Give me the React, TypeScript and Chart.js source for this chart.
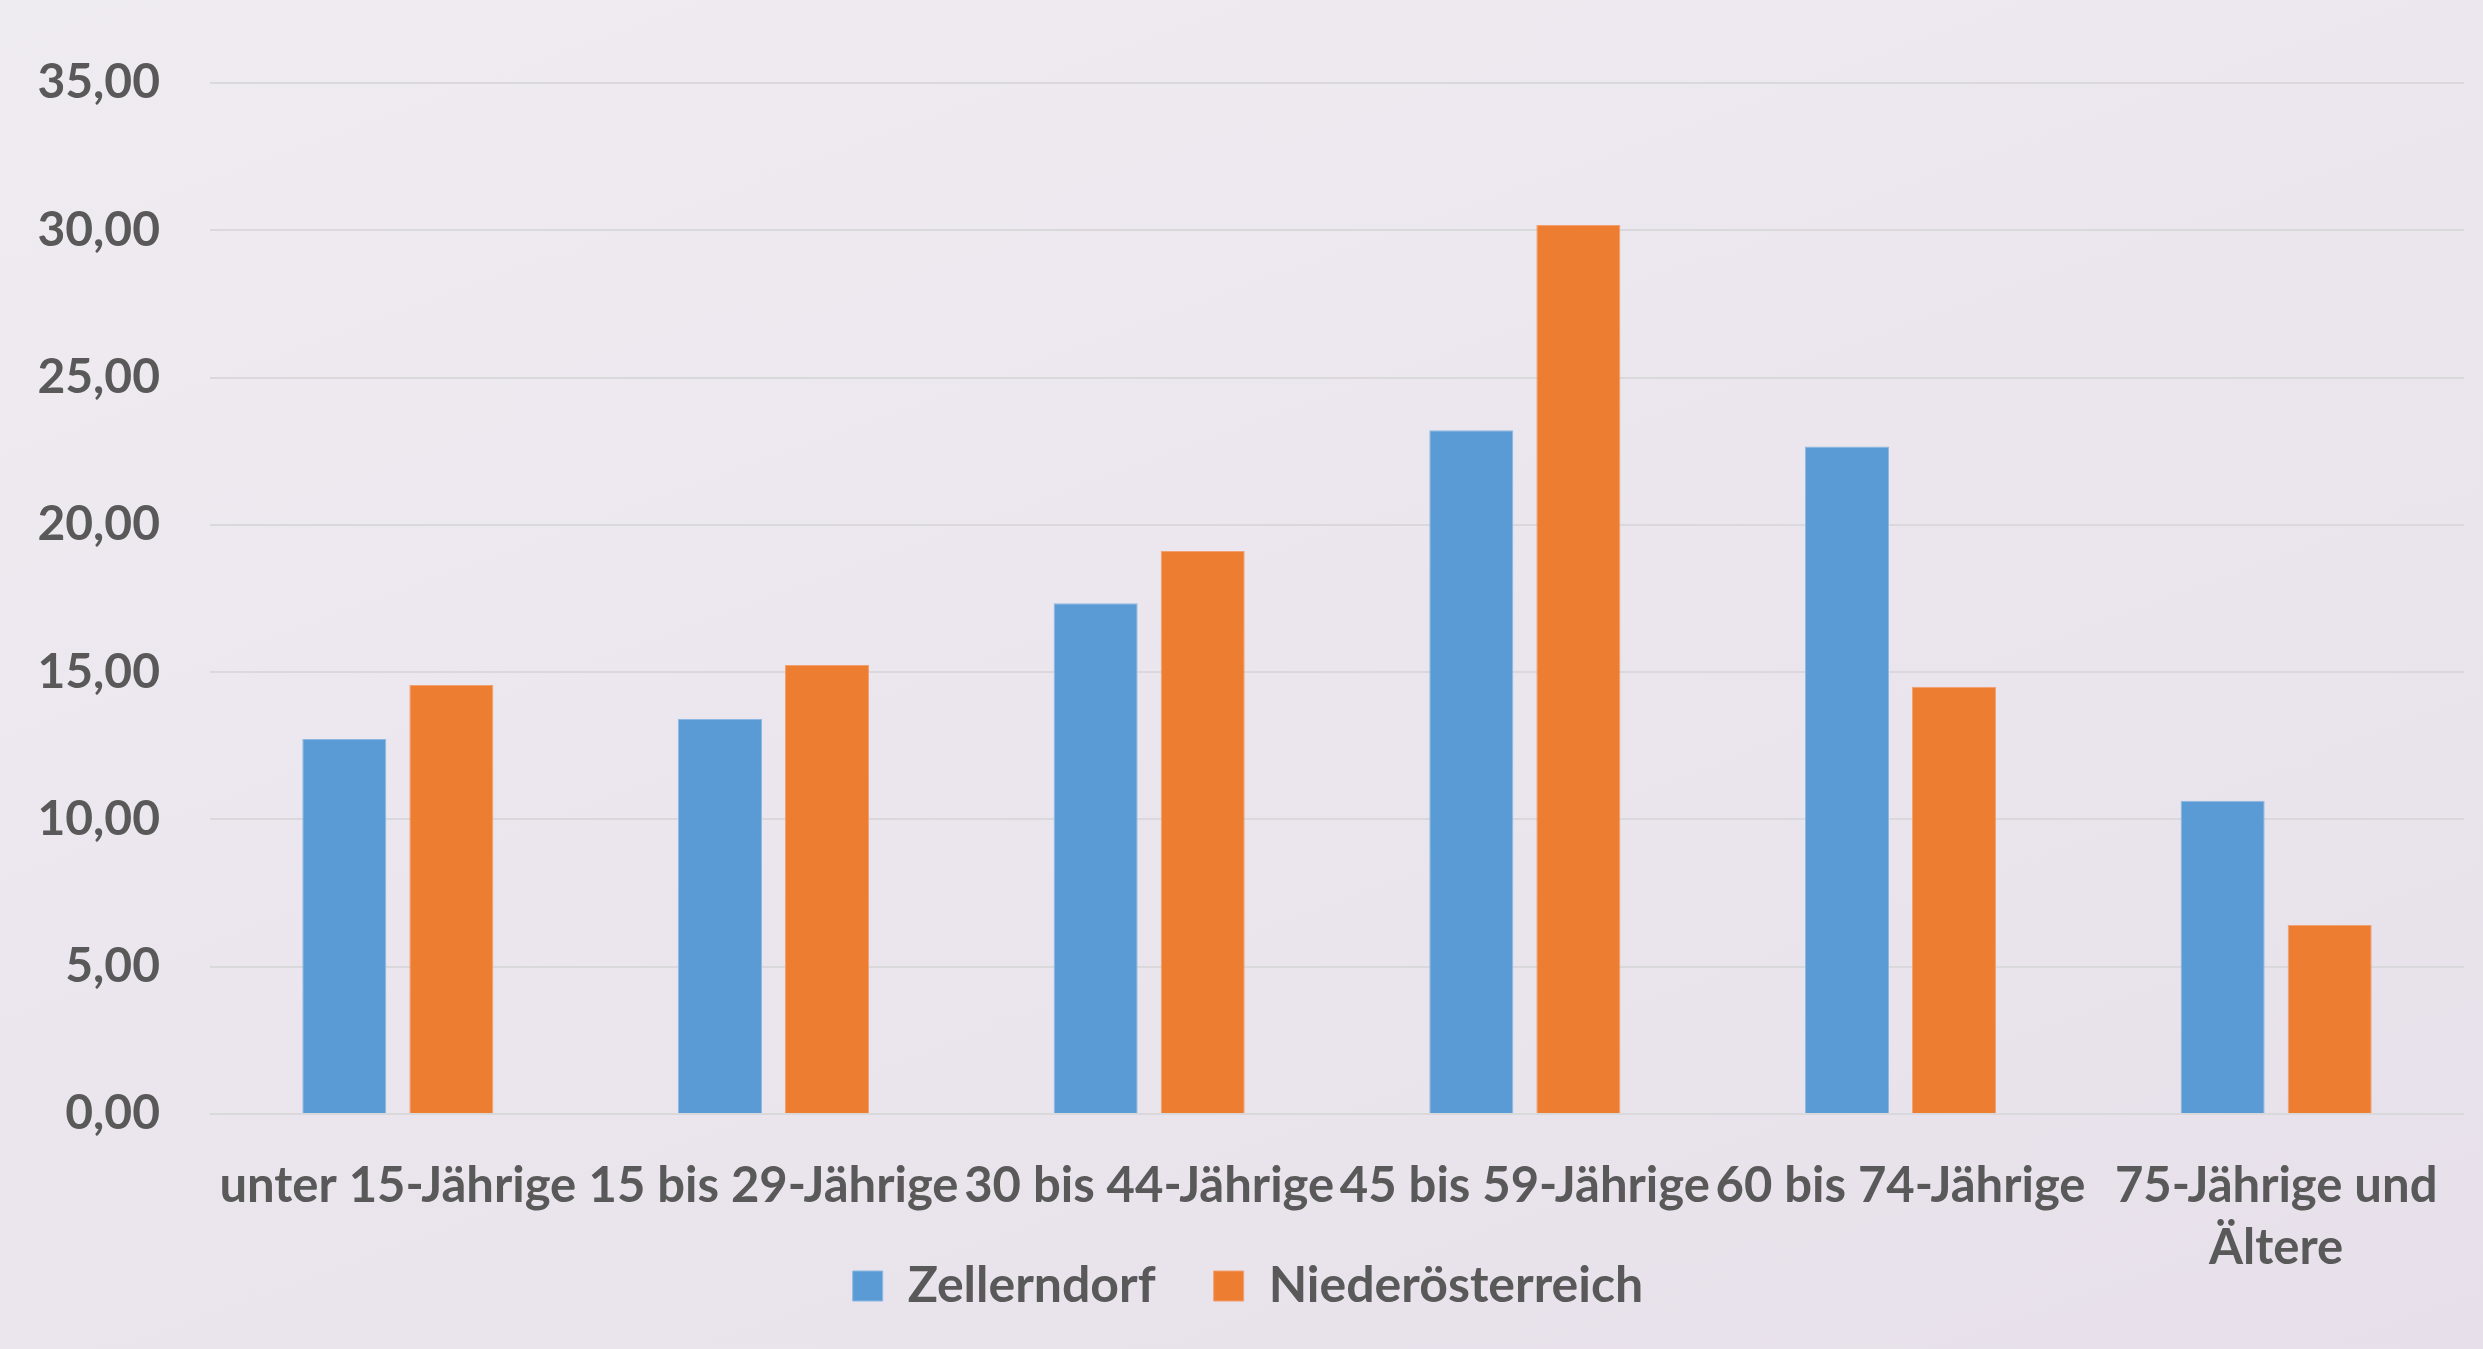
import React, { useEffect, useRef } from "react";
import { Chart, registerables } from "chart.js";

Chart.register(...registerables);

const categories: (string | string[])[] = [
  "unter 15-Jährige",
  "15 bis 29-Jährige",
  "30 bis 44-Jährige",
  "45 bis 59-Jährige",
  "60 bis 74-Jährige",
  ["75-Jährige und", "Ältere"],
];
const zellerndorf = [12.73, 13.41, 17.34, 23.21, 22.66, 10.63];
const niederoesterreich = [14.56, 15.24, 19.11, 30.18, 14.5, 6.42];
const seriesNames = ["Zellerndorf", "Niederösterreich"];

// lets the two-line category label extend past the x-axis box (no clipping)
const unclipXLabels = {
  id: "unclipXLabels",
  afterLayout(chart: any) {
    const x = chart.scales.x;
    x.bottom = chart.height;
    x.height = x.bottom - x.top;
  },
};

export default function App() {
  const ref = useRef<HTMLCanvasElement | null>(null);
  useEffect(() => {
    document.body.style.margin = "0";
    if (!ref.current) return;
    const chart = new Chart(ref.current, {
      type: "bar",
      data: {
        labels: categories as any,
        datasets: [
          {
            label: seriesNames[0],
            data: zellerndorf,
            backgroundColor: "#5B9BD5",
            borderColor: "#8DB8E2",
            borderWidth: 1,
            categoryPercentage: 0.57,
            barPercentage: 0.785,
          },
          {
            label: seriesNames[1],
            data: niederoesterreich,
            backgroundColor: "#ED7D31",
            borderColor: "#F2A070",
            borderWidth: 1,
            categoryPercentage: 0.57,
            barPercentage: 0.785,
          },
        ],
      },
      plugins: [unclipXLabels],
      options: {
        animation: false,
        responsive: false,
        maintainAspectRatio: false,
        layout: { padding: { top: 83, left: 32, right: 19, bottom: 28 } },
        plugins: {
          legend: {
            position: "bottom",
            labels: {
              boxWidth: 30,
              boxHeight: 30,
              padding: 58,
              color: "#595959",
              font: { family: "Lato", size: 50, weight: "bold" },
            },
          },
          tooltip: { enabled: false },
        },
        scales: {
          x: {
            grid: { display: false },
            border: { display: false },
            ticks: {
              color: "#595959",
              font: { family: "Lato", size: 49, weight: "bold", lineHeight: 1.27 },
              maxRotation: 0,
              minRotation: 0,
              autoSkip: false,
              padding: 33,
            },
            afterFit: (s: any) => {
              s.height = 89;
            },
          },
          y: {
            min: 0,
            max: 35,
            border: { display: false },
            grid: { color: "#D9D8DB", lineWidth: 2, drawTicks: false },
            ticks: {
              stepSize: 5,
              padding: 50,
              color: "#595959",
              font: { family: "Lato", size: 48, weight: "bold" },
              callback: (v: any) => Number(v).toFixed(2).replace(".", ","),
            },
            afterFit: (s: any) => {
              s.width = 178;
            },
          },
        },
      },
    });
    return () => chart.destroy();
  }, []);
  return (
    <div
      style={{
        width: 2483,
        height: 1349,
        background: "linear-gradient(160deg, #EFECF1 0%, #EBE6EE 50%, #E7E0EA 100%)",
      }}
    >
      <canvas ref={ref} width={2483} height={1349} style={{ display: "block" }} />
    </div>
  );
}
